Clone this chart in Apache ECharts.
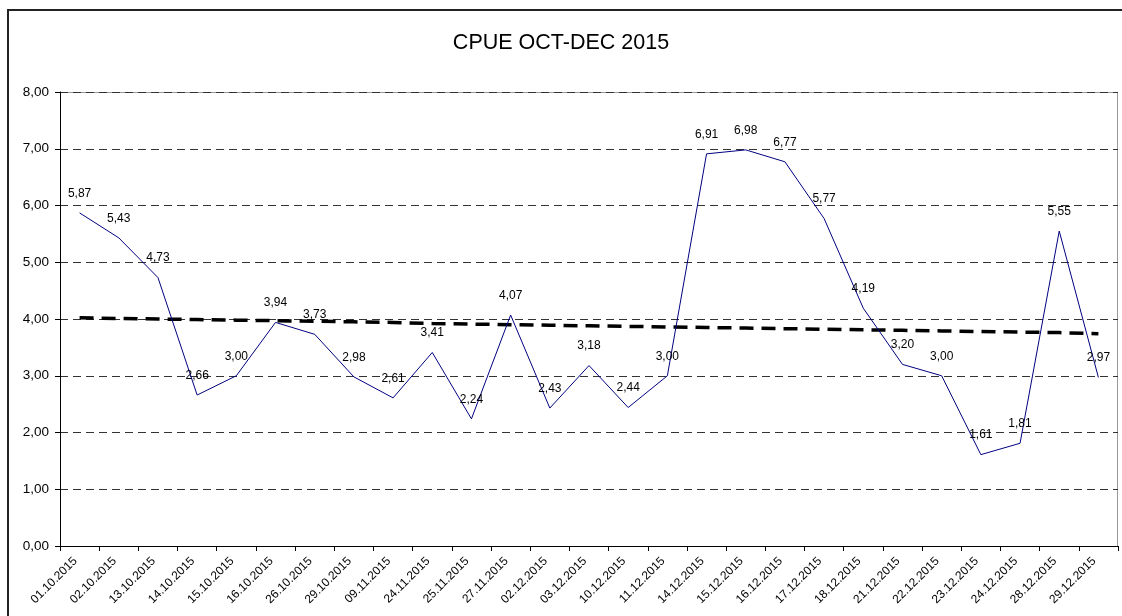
<!DOCTYPE html>
<html>
<head>
<meta charset="utf-8">
<script src="https://cdn.jsdelivr.net/npm/echarts@6/dist/echarts.min.js"></script>
<style>
  html, body { margin: 0; padding: 0; background: #fff; }
  #chart { width: 1122px; height: 616px; }
</style>
</head>
<body>
<div id="chart"></div>
<script>
const dates = ['01.10.2015', '02.10.2015', '13.10.2015', '14.10.2015', '15.10.2015', '16.10.2015', '26.10.2015',
  '29.10.2015', '09.11.2015', '24.11.2015', '25.11.2015', '27.11.2015', '02.12.2015', '03.12.2015', '10.12.2015',
  '11.12.2015', '14.12.2015', '15.12.2015', '16.12.2015', '17.12.2015', '18.12.2015', '21.12.2015', '22.12.2015',
  '23.12.2015', '24.12.2015', '28.12.2015', '29.12.2015']
const cpue = [5.87, 5.43, 4.73, 2.66, 3.00, 3.94, 3.73, 2.98, 2.61, 3.41, 2.24, 4.07, 2.43, 3.18, 2.44,
  3.00, 6.91, 6.98, 6.77, 5.77, 4.19, 3.20, 3.00, 1.61, 1.81, 5.55, 2.97]
// trend line
const trend = [4.02, 4.01, 4.00, 3.99, 3.98, 3.97, 3.96, 3.95, 3.94, 3.92, 3.91, 3.90, 3.89, 3.88, 3.87,
  3.86, 3.85, 3.84, 3.83, 3.82, 3.81, 3.80, 3.79, 3.78, 3.77, 3.76, 3.74]
const yTicks = [0, 1, 2, 3, 4, 5, 6, 7, 8]

const fmt = v => v.toFixed(2).replace('.', ',')

const chart = echarts.init(document.getElementById('chart'))
chart.setOption({
  animation: false,
  textStyle: { fontFamily: 'Liberation Sans, Arial, sans-serif' },
  title: {
    text: 'CPUE OCT-DEC 2015',
    left: 'center',
    top: 27,
    textStyle: { fontSize: 21.5, fontWeight: 'normal', color: '#000' }
  },
  graphic: [
    {
      // outer chart frame, only top and left fall inside the picture
      type: 'polyline',
      shape: { points: [[8, 616], [8, 10], [1122, 10]] },
      style: { fill: 'none', stroke: '#222', lineWidth: 2 },
      silent: true
    },
    {
      // plot area frame (top / right in grey)
      type: 'rect',
      shape: { x: 60.5, y: 92.5, width: 1057, height: 454 },
      style: { fill: 'none', stroke: '#999', lineWidth: 1 },
      silent: true,
      z: -1
    }
  ],
  grid: { left: 60, right: 4, top: 92, bottom: 70 },
  xAxis: {
    type: 'category',
    data: dates,
    boundaryGap: true,
    axisLine: { lineStyle: { color: '#000', width: 1 } },
    axisTick: { show: true, length: 5, lineStyle: { color: '#000' } },
    axisLabel: { rotate: 45, fontSize: 12, color: '#000', margin: 9, interval: 0, padding: [0, 6, 0, 0] },
    splitLine: { show: false }
  },
  yAxis: {
    type: 'value',
    min: yTicks[0],
    max: yTicks[yTicks.length - 1],
    interval: 1,
    axisLine: { show: true, lineStyle: { color: '#000', width: 1 } },
    axisTick: { show: true, length: 5, lineStyle: { color: '#000' } },
    axisLabel: { formatter: fmt, fontSize: 13.5, color: '#000', margin: 11 },
    splitLine: { show: true, lineStyle: { color: '#333', type: [8, 5], width: 1 } }
  },
  series: [
    {
      name: 'CPUE',
      type: 'line',
      data: cpue,
      symbol: 'circle',
      symbolSize: 1,
      showSymbol: true,
      itemStyle: { color: 'rgba(0,0,0,0)' },
      lineStyle: { color: '#000080', width: 1 },
      label: {
        show: true,
        position: 'top',
        distance: 13,
        fontSize: 12,
        color: '#000',
        formatter: p => fmt(p.value)
      },
      z: 3
    },
    {
      name: 'Trend',
      type: 'line',
      data: trend,
      symbol: 'none',
      lineStyle: { color: '#000', width: 3.5, type: [14, 8] },
      z: 2
    }
  ]
})
</script>
</body>
</html>
